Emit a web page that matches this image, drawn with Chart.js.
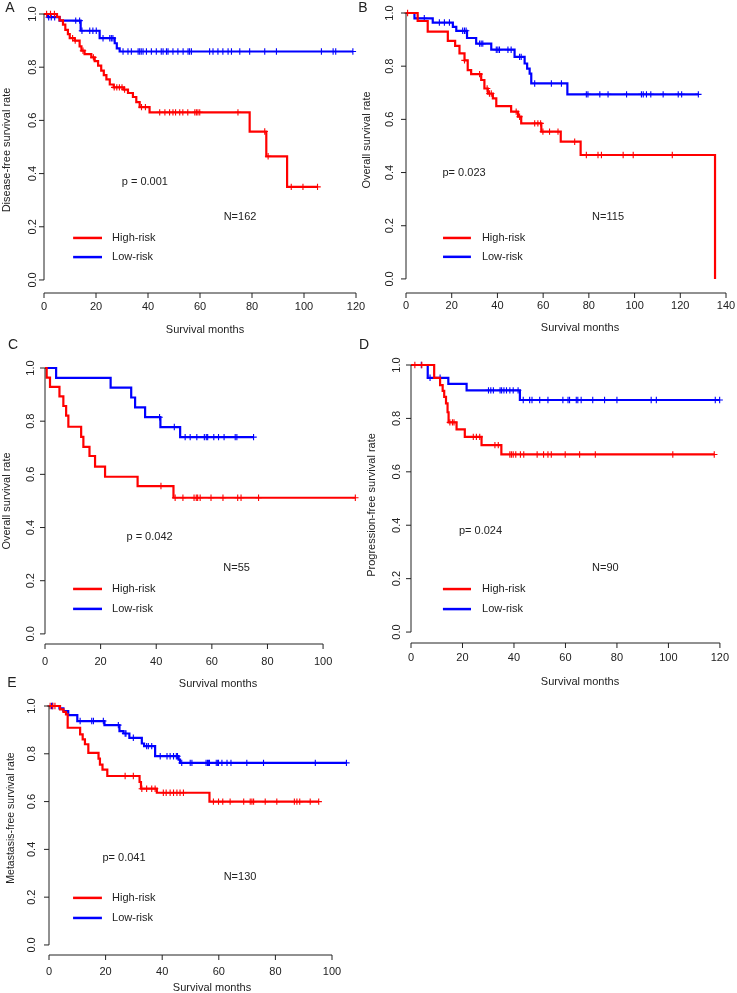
<!DOCTYPE html>
<html>
<head>
<meta charset="utf-8">
<script src="https://cdn.jsdelivr.net/npm/chart.js@4.4.0/dist/chart.umd.min.js"></script>
<style>
body{margin:0;background:#fff;}
#wrap{position:relative;width:737px;height:993px;overflow:hidden;}
#wrap canvas{position:absolute;left:0;top:0;}
</style>
</head>
<body>
<div id="wrap">
<canvas id="cA" width="737" height="993"></canvas>
<canvas id="cB" width="737" height="993"></canvas>
<canvas id="cC" width="737" height="993"></canvas>
<canvas id="cD" width="737" height="993"></canvas>
<canvas id="cE" width="737" height="993"></canvas>
</div>
<script>
const groups = ["High-risk", "Low-risk"];
const colors = ["#ff0000", "#0000ff"];
const yTicks = [0, 0.2, 0.4, 0.6, 0.8, 1.0];
const xTicksA = [0, 20, 40, 60, 80, 100, 120];
const xTicksB = [0, 20, 40, 60, 80, 100, 120, 140];
const xTicksC = [0, 20, 40, 60, 80, 100];
const xTicksD = [0, 20, 40, 60, 80, 100, 120];
const xTicksE = [0, 20, 40, 60, 80, 100];

// A - disease-free survival
const aHighT = [0, 5, 6, 7.3, 8.2, 9.2, 9.9, 11.8, 13.7, 14.4, 15.6, 18.2, 19.5, 20.8, 22, 23, 24, 25.3, 26.8, 30.6, 32.3, 34.2, 35.5, 36.8, 40.6, 79.1, 85.5, 93.5];
const aHighS = [1, 0.989, 0.976, 0.96, 0.94, 0.924, 0.909, 0.9, 0.878, 0.862, 0.849, 0.837, 0.823, 0.806, 0.787, 0.77, 0.754, 0.735, 0.724, 0.716, 0.703, 0.688, 0.669, 0.65, 0.63, 0.558, 0.465, 0.35];
const aHighC = [1, 2.5, 4, 11, 12, 15, 19, 27, 28, 29, 30, 31, 37.5, 39, 44.5, 46.5, 48.3, 49.6, 50.6, 52.2, 53.4, 55.3, 58, 58.6, 59.2, 59.9, 74.6, 84.9, 86.2, 95.1, 99.6, 105.2];
const aLowT = [0, 1.5, 6, 14.1, 21.4, 27.2, 28, 29.1];
const aLowS = [1, 0.988, 0.975, 0.937, 0.909, 0.89, 0.871, 0.859];
const aLowC = [1.8, 2.8, 4.1, 12.2, 13.7, 14.6, 17.6, 18.8, 20.1, 22.7, 25.3, 25.9, 26.5, 30.4, 32.3, 33.6, 36.2, 36.8, 37.4, 38.1, 39.4, 41.3, 43.2, 45.1, 45.8, 47.1, 47.7, 49.6, 51.5, 53.5, 55.4, 56, 56.7, 63.7, 65, 66.9, 68.8, 70.8, 72.1, 75.3, 79.1, 84.9, 89.4, 106.7, 111.2, 112.2, 118.8];

// B - overall survival
const bHighT = [0, 5.1, 9.5, 18.3, 21.5, 23.4, 25.6, 27, 28.5, 32.9, 34.3, 35.8, 38, 39.5, 46, 49, 50.4, 59.2, 67.7, 76.4, 135.2];
const bHighS = [1, 0.97, 0.93, 0.895, 0.876, 0.848, 0.822, 0.785, 0.77, 0.748, 0.716, 0.697, 0.679, 0.65, 0.629, 0.61, 0.585, 0.554, 0.516, 0.466, 0];
const bHighC = [0.7, 25.6, 32.2, 35.5, 36.5, 37.3, 48.2, 49.7, 56.3, 57.7, 58.9, 59.9, 62.8, 66.5, 73.8, 78.9, 84, 85.5, 95, 99.4, 116.5];
const bLowT = [0, 3.7, 11.7, 20.5, 22, 26.7, 30.7, 37.3, 47.5, 51.9, 53, 54.1, 54.8, 70.6];
const bLowS = [1, 0.98, 0.964, 0.948, 0.933, 0.906, 0.885, 0.862, 0.835, 0.81, 0.791, 0.772, 0.735, 0.694];
const bLowC = [5.1, 8, 14.6, 16.8, 19, 24.8, 25.6, 26.3, 32.2, 32.9, 33.6, 39.5, 40.2, 40.9, 44.6, 46, 49.7, 50.4, 56.3, 63.6, 68, 78.9, 79.6, 84.8, 88.4, 96.5, 103, 103.8, 105.2, 107.1, 112.5, 119.1, 120.6, 127.9];

// C - overall survival
const cHighT = [0, 0.6, 1.8, 5.2, 6.6, 7.6, 8.4, 13, 13.8, 16, 18, 21.6, 33.3, 46.2];
const cHighS = [1, 0.964, 0.929, 0.893, 0.857, 0.821, 0.779, 0.741, 0.703, 0.669, 0.629, 0.591, 0.556, 0.512];
const cHighC = [41.7, 46.8, 49.6, 53.6, 54.4, 54.9, 55.8, 59.7, 64, 69.3, 70.5, 76.8, 111.6];
const cLowT = [0, 4, 23.6, 31, 32.4, 36, 41.5, 48.6];
const cLowS = [1, 0.963, 0.926, 0.889, 0.852, 0.815, 0.778, 0.74];
const cLowC = [41.2, 46.5, 50.4, 52.2, 54.6, 57.3, 58, 58.5, 60.7, 62.4, 64.4, 68.4, 69, 75];

// D - progression-free survival
const dHighT = [0, 9, 11.3, 12.3, 12.9, 13.6, 14.2, 14.6, 17.7, 20.9, 27.4, 35.1];
const dHighS = [1, 0.952, 0.925, 0.903, 0.881, 0.856, 0.823, 0.785, 0.759, 0.731, 0.7, 0.665];
const dHighC = [1.5, 4.2, 15.1, 16.1, 16.7, 24.2, 25.4, 26.7, 32.6, 33.9, 38.4, 39, 39.7, 40.7, 42.5, 43.8, 49, 51.5, 53.2, 54.5, 59.9, 65.5, 71.6, 101.7, 117.8];
const dLowT = [0, 6.5, 14.5, 21.6, 42.3];
const dLowS = [1, 0.952, 0.929, 0.905, 0.869];
const dLowC = [4, 7.4, 11.3, 30.1, 31, 32, 34.6, 35.2, 36.1, 37.1, 38.4, 39.7, 41.6, 43.6, 46.1, 47, 50, 53.2, 59, 61, 61.6, 64.2, 64.8, 66.1, 70.6, 75.2, 80, 93.3, 95.3, 118.2, 119.9];

// E - metastasis-free survival
const eHighT = [0, 3.9, 5.1, 6, 6.6, 11, 11.9, 12.7, 13.9, 17.5, 18, 18.9, 20.6, 32, 32.5, 38.1, 56.7];
const eHighS = [1, 0.986, 0.975, 0.965, 0.909, 0.881, 0.86, 0.84, 0.804, 0.78, 0.755, 0.734, 0.707, 0.682, 0.654, 0.637, 0.6];
const eHighC = [0.4, 1.3, 2.1, 26.9, 29.8, 32.8, 34.5, 36.3, 37.5, 40.4, 41.4, 42.8, 44, 45.2, 46.3, 47.5, 58.1, 59.9, 61.4, 64, 68.8, 71.1, 71.7, 72.3, 76.4, 80.5, 86.7, 87.6, 88.6, 92.3, 95.3];
const eLowT = [0, 3.7, 5.1, 6.8, 10, 19.6, 24.9, 26.3, 28.4, 32.8, 33.6, 37.5, 45.8, 46.3];
const eLowS = [1, 0.99, 0.979, 0.962, 0.937, 0.92, 0.895, 0.885, 0.867, 0.843, 0.832, 0.79, 0.776, 0.762];
const eLowC = [0.9, 1.3, 11, 15.1, 15.7, 19.2, 24.5, 26.9, 27.2, 29.8, 34.5, 35.1, 36.3, 39.3, 41.7, 42.8, 44, 45, 45.4, 46.9, 49.9, 50.5, 55.5, 56, 56.4, 56.7, 59.1, 59.6, 59.9, 61.1, 62.9, 64.3, 69.9, 75.8, 94.1, 105.1];

const FONT = '"Liberation Sans", Arial, sans-serif';
const INK = "#222";

function survAt(T, S, t){
    let s = S[0];
    for (let i = 0; i < T.length; i++) {
        if (T[i] <= t) s = S[i];
    }
    return s;
}

function curve(T, S, C){
    const pts = T.map((t, i) => ({x: t, y: S[i]}));
    const last = T[T.length - 1];
    const end = Math.max(last, ...C);
    if (end > last) pts.push({x: end, y: S[S.length - 1]});
    return pts;
}

function marks(T, S, C){
    return C.map(c => ({x: c, y: survAt(T, S, c)}));
}

function rPlugin(p){
    return {
        id: "rstyle" + p.letter,
        afterDraw(chart){
            const ctx = chart.ctx;
            const xs = chart.scales.x, ys = chart.scales.y;
            const area = chart.chartArea;
            ctx.save();
            ctx.strokeStyle = INK;
            ctx.fillStyle = INK;
            ctx.lineWidth = 1;
            // y axis
            ctx.beginPath();
            ctx.moveTo(area.left, ys.getPixelForValue(1));
            ctx.lineTo(area.left, ys.getPixelForValue(0));
            yTicks.forEach(v => {
                const py = ys.getPixelForValue(v);
                ctx.moveTo(area.left, py);
                ctx.lineTo(area.left - 5, py);
            });
            // x axis
            const xt = p.xTicks;
            ctx.moveTo(xs.getPixelForValue(xt[0]), area.bottom);
            ctx.lineTo(xs.getPixelForValue(xt[xt.length - 1]), area.bottom);
            xt.forEach(v => {
                const px = xs.getPixelForValue(v);
                ctx.moveTo(px, area.bottom);
                ctx.lineTo(px, area.bottom + 5);
            });
            ctx.stroke();

            ctx.font = "11px " + FONT;
            ctx.textAlign = "center";
            ctx.textBaseline = "middle";
            xt.forEach(v => {
                ctx.fillText(String(v), xs.getPixelForValue(v), p.xlabY);
            });
            yTicks.forEach(v => {
                ctx.save();
                ctx.translate(p.ylabX, ys.getPixelForValue(v));
                ctx.rotate(-Math.PI / 2);
                ctx.fillText(v.toFixed(1), 0, 0);
                ctx.restore();
            });
            // titles
            ctx.fillText("Survival months", p.xTitle[0], p.xTitle[1]);
            ctx.save();
            ctx.font = p.yFont + "px " + FONT;
            ctx.translate(p.yTitle[0], p.yTitle[1]);
            ctx.rotate(-Math.PI / 2);
            ctx.fillText(p.ylab, 0, 0);
            ctx.restore();
            ctx.font = "14px " + FONT;
            ctx.fillText(p.letter, p.letterPos[0], p.letterPos[1]);

            // p value and N
            ctx.font = "11px " + FONT;
            ctx.fillText(p.pText, xs.getPixelForValue(p.pAt[0]), ys.getPixelForValue(p.pAt[1]));
            ctx.fillText(p.nText, xs.getPixelForValue(p.nAt[0]), ys.getPixelForValue(p.nAt[1]));

            // legend
            const lg = p.leg;
            ctx.textAlign = "left";
            ctx.lineWidth = 2.5;
            groups.forEach((g, i) => {
                const py = ys.getPixelForValue(lg.y[i]);
                ctx.strokeStyle = colors[i];
                ctx.beginPath();
                ctx.moveTo(xs.getPixelForValue(lg.x0), py);
                ctx.lineTo(xs.getPixelForValue(lg.x1), py);
                ctx.stroke();
                ctx.fillStyle = INK;
                ctx.fillText(g, xs.getPixelForValue(lg.tx), py);
            });
            ctx.restore();
        }
    };
}

function drawPanel(p){
    const a = p.area;
    const series = [[p.hT, p.hS, p.hC], [p.lT, p.lS, p.lC]];
    const sets = [];
    // lower order is drawn last, so high-risk ends up on top
    series.forEach((s, i) => {
        sets.push({
            type: "line",
            label: groups[i],
            data: curve(s[0], s[1], s[2]),
            stepped: "before",
            borderColor: colors[i],
            borderWidth: 2.2,
            pointRadius: 0,
            fill: false,
            clip: false,
            order: i * 2 + 1
        });
        sets.push({
            type: "scatter",
            label: groups[i] + " censored",
            data: marks(s[0], s[1], s[2]),
            pointStyle: "cross",
            pointRadius: 3.2,
            borderColor: colors[i],
            borderWidth: 1.1,
            clip: false,
            order: i * 2
        });
    });

    new Chart(document.getElementById(p.id), {
        type: "line",
        data: {datasets: sets},
        options: {
            responsive: false,
            animation: false,
            devicePixelRatio: 1,
            events: [],
            layout: {padding: {left: a.l, top: a.t, right: 737 - a.r, bottom: 993 - a.b}},
            plugins: {legend: {display: false}, tooltip: {enabled: false}},
            scales: {
                x: {type: "linear", min: 0, max: p.xMax, display: false},
                y: {type: "linear", min: p.yMin, max: 1, display: false}
            }
        },
        plugins: [rPlugin(p)]
    });
}

function init(){
    drawPanel({id: "cA", letter: "A", letterPos: [10, 8], area: {l: 44, r: 356, t: 14, b: 293},
        xMax: 120, yMin: -0.049, xTicks: xTicksA, ylabX: 33, xlabY: 307,
        xTitle: [205, 330], yTitle: [7, 150], yFont: 11, ylab: "Disease-free survival rate",
        pText: "p = 0.001", pAt: [38.8, 0.368], nText: "N=162", nAt: [75.4, 0.237],
        leg: {x0: 11.2, x1: 22.3, tx: 26.2, y: [0.158, 0.086]},
        hT: aHighT, hS: aHighS, hC: aHighC, lT: aLowT, lS: aLowS, lC: aLowC});
    drawPanel({id: "cB", letter: "B", letterPos: [363, 8], area: {l: 406, r: 726, t: 13, b: 293},
        xMax: 140, yMin: -0.053, xTicks: xTicksB, ylabX: 390, xlabY: 306,
        xTitle: [580, 328], yTitle: [367, 140], yFont: 11, ylab: "Overall survival rate",
        pText: "p= 0.023", pAt: [25.4, 0.398], nText: "N=115", nAt: [88.4, 0.233],
        leg: {x0: 16.2, x1: 28.4, tx: 33.2, y: [0.154, 0.083]},
        hT: bHighT, hS: bHighS, hC: bHighC, lT: bLowT, lS: bLowS, lC: bLowC});
    drawPanel({id: "cC", letter: "C", letterPos: [13, 345], area: {l: 45, r: 357, t: 368, b: 644},
        xMax: 112.2, yMin: -0.038, xTicks: xTicksC, ylabX: 31, xlabY: 662,
        xTitle: [218, 684], yTitle: [7, 501], yFont: 11, ylab: "Overall survival rate",
        pText: "p = 0.042", pAt: [37.6, 0.365], nText: "N=55", nAt: [68.9, 0.248],
        leg: {x0: 10.1, x1: 20.5, tx: 24.1, y: [0.169, 0.094]},
        hT: cHighT, hS: cHighS, hC: cHighC, lT: cLowT, lS: cLowS, lC: cLowC});
    drawPanel({id: "cD", letter: "D", letterPos: [364, 345], area: {l: 411, r: 723, t: 365, b: 643},
        xMax: 121.2, yMin: -0.041, xTicks: xTicksD, ylabX: 397, xlabY: 658,
        xTitle: [580, 682], yTitle: [372, 505], yFont: 11, ylab: "Progression-free survival rate",
        pText: "p= 0.024", pAt: [27, 0.378], nText: "N=90", nAt: [75.5, 0.24],
        leg: {x0: 12.4, x1: 23.3, tx: 27.6, y: [0.161, 0.086]},
        hT: dHighT, hS: dHighS, hC: dHighC, lT: dLowT, lS: dLowS, lC: dLowC});
    drawPanel({id: "cE", letter: "E", letterPos: [12, 683], area: {l: 49, r: 347, t: 706, b: 955},
        xMax: 105.3, yMin: -0.042, xTicks: xTicksE, ylabX: 32, xlabY: 972,
        xTitle: [212, 988], yTitle: [11, 818], yFont: 10.5, ylab: "Metastasis-free survival rate",
        pText: "p= 0.041", pAt: [26.5, 0.364], nText: "N=130", nAt: [67.5, 0.285],
        leg: {x0: 8.5, x1: 18.7, tx: 22.3, y: [0.197, 0.113]},
        hT: eHighT, hS: eHighS, hC: eHighC, lT: eLowT, lS: eLowS, lC: eLowC});
}

init();
</script>
</body>
</html>
